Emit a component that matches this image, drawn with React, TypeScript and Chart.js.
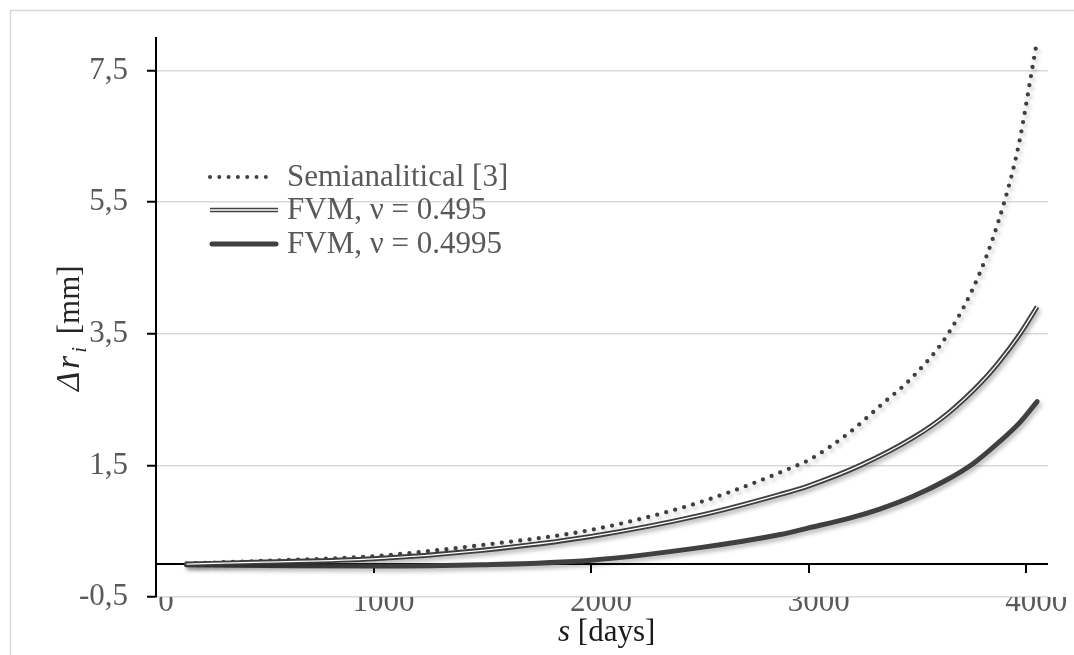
import React, { useEffect, useRef } from 'react';
import { Chart, registerables } from 'chart.js';

Chart.register(...registerables);

const FONT = "'Liberation Serif', 'Times New Roman', serif";

// s [days] and Δr_i [mm] for each series
const semiS = [140, 500, 1000, 1500, 2000, 2500, 2947, 3000, 3180, 3330, 3480, 3641, 3790, 3899, 3966, 4026, 4050];
const semiV = [0.01, 0.05, 0.12, 0.29, 0.52, 0.94, 1.5, 1.58, 1.98, 2.41, 2.85, 3.5, 4.45, 5.5, 6.38, 7.5, 7.96];

const fvm0495S = [140, 500, 1000, 1500, 2000, 2500, 2870, 3000, 3237, 3480, 3640, 3790, 3870, 3972, 4050];
const fvm0495V = [0.0, 0.03, 0.08, 0.21, 0.42, 0.74, 1.06, 1.19, 1.5, 1.92, 2.29, 2.75, 3.05, 3.5, 3.91];

const fvm04995S = [140, 500, 1000, 1500, 2000, 2500, 2870, 3000, 3180, 3330, 3480, 3640, 3757, 3870, 3970, 4050];
const fvm04995V = [-0.01, -0.02, -0.03, -0.01, 0.06, 0.25, 0.45, 0.55, 0.69, 0.84, 1.03, 1.29, 1.53, 1.84, 2.15, 2.47];

const yTicks = [-0.5, 1.5, 3.5, 5.5, 7.5];
const xTicks = [0, 1000, 2000, 3000, 4000];
const seriesLabels = ['Semianalitical [3]', 'FVM, ν = 0.495', 'FVM, ν = 0.4995'];

const LINE = '#404040';

const toPts = (xs: number[], ys: number[]) => xs.map((x, i) => ({ x, y: ys[i] }));

export default function App() {
  const ref = useRef<HTMLCanvasElement | null>(null);

  useEffect(() => {
    if (!ref.current) return;

    const shadowPlugin = {
      id: 'shadow',
      beforeDatasetDraw(chart: any, args: any) {
        const ctx = chart.ctx;
        ctx.save();
        if (args.index !== 2) {
          ctx.shadowColor = 'rgba(0,0,0,0.28)';
          ctx.shadowBlur = 4;
          ctx.shadowOffsetX = 2;
          ctx.shadowOffsetY = 3;
        }
      },
      afterDatasetDraw(chart: any) {
        chart.ctx.restore();
      },
    };

    const axisPlugin = {
      id: 'xAxisAtZero',
      beforeDatasetsDraw(chart: any) {
        const ctx = chart.ctx;
        const xs = chart.scales.x;
        const ys = chart.scales.y;
        const y0 = ys.getPixelForValue(0);
        ctx.save();
        ctx.strokeStyle = '#000';
        ctx.lineWidth = 2;
        ctx.beginPath();
        ctx.moveTo(chart.chartArea.left, y0);
        ctx.lineTo(chart.chartArea.right, y0);
        ctx.stroke();
        xTicks.forEach((v) => {
          if (v === 0) return;
          const px = Math.round(xs.getPixelForValue(v));
          ctx.beginPath();
          ctx.moveTo(px, y0);
          ctx.lineTo(px, y0 + 9);
          ctx.stroke();
        });
        ctx.restore();
      },
    };

    const decorPlugin = {
      id: 'decor',
      afterDraw(chart: any) {
        const ctx = chart.ctx;
        ctx.save();
        // outer frame
        ctx.strokeStyle = '#d9d9d9';
        ctx.lineWidth = 1.5;
        ctx.beginPath();
        ctx.moveTo(10.5, 660);
        ctx.lineTo(10.5, 10.5);
        ctx.lineTo(1080, 10.5);
        ctx.stroke();

        // legend
        const rows = [177, 210, 244];
        const x1 = 210;
        const x2 = 278;
        ctx.lineCap = 'round';
        ctx.strokeStyle = LINE;
        ctx.lineWidth = 4;
        ctx.setLineDash([0, 9.3]);
        ctx.beginPath();
        ctx.moveTo(x1, rows[0]);
        ctx.lineTo(273, rows[0]);
        ctx.stroke();
        ctx.setLineDash([]);
        ctx.lineCap = 'butt';
        ctx.lineWidth = 4.5;
        ctx.beginPath();
        ctx.moveTo(x1, rows[1]);
        ctx.lineTo(x2, rows[1]);
        ctx.stroke();
        ctx.strokeStyle = '#fff';
        ctx.lineWidth = 1.3;
        ctx.beginPath();
        ctx.moveTo(x1, rows[1]);
        ctx.lineTo(x2, rows[1]);
        ctx.stroke();
        ctx.strokeStyle = LINE;
        ctx.lineWidth = 5;
        ctx.lineCap = 'round';
        ctx.beginPath();
        ctx.moveTo(x1 + 2, rows[2]);
        ctx.lineTo(x2 - 2, rows[2]);
        ctx.stroke();

        ctx.fillStyle = '#595959';
        ctx.font = `31px ${FONT}`;
        ctx.textBaseline = 'middle';
        ctx.textAlign = 'left';
        seriesLabels.forEach((t, i) => ctx.fillText(t, 287, rows[i] + 1));

        // x title
        ctx.fillStyle = '#1a1a1a';
        ctx.textBaseline = 'alphabetic';
        ctx.font = `italic 31px ${FONT}`;
        ctx.fillText('s', 558, 641);
        let w = ctx.measureText('s').width;
        ctx.font = `31px ${FONT}`;
        ctx.fillText(' [days]', 558 + w, 641);

        // y title
        ctx.translate(79, 391);
        ctx.rotate(-Math.PI / 2);
        ctx.fillStyle = '#262626';
        ctx.font = `italic 33px ${FONT}`;
        ctx.fillText('Δ', 0, 0);
        w = ctx.measureText('Δ').width + 3;
        ctx.fillText('r', w, 0);
        w += ctx.measureText('r').width + 3;
        ctx.font = `italic 21px ${FONT}`;
        ctx.fillText('i', w, 7);
        w += ctx.measureText('i').width + 3;
        ctx.font = `31px ${FONT}`;
        ctx.fillText(' [mm]', w + 2, 0);
        ctx.restore();
      },
    };

    const common = { pointRadius: 0, cubicInterpolationMode: 'monotone' };

    const chart = new Chart(ref.current, {
      type: 'line',
      data: {
        datasets: [
          {
            ...common,
            label: seriesLabels[0],
            data: toPts(semiS, semiV),
            borderColor: LINE,
            borderWidth: 4.3,
            borderDash: [0, 9.3],
            borderCapStyle: 'round',
            order: 2,
          },
          {
            ...common,
            label: seriesLabels[1],
            data: toPts(fvm0495S, fvm0495V),
            borderColor: LINE,
            borderWidth: 5,
            order: 3,
          },
          {
            ...common,
            label: 'inner',
            data: toPts(fvm0495S, fvm0495V),
            borderColor: '#ffffff',
            borderWidth: 1.3,
            order: 1,
          },
          {
            ...common,
            label: seriesLabels[2],
            data: toPts(fvm04995S, fvm04995V),
            borderColor: LINE,
            borderWidth: 5,
            borderCapStyle: 'round',
            order: 4,
          },
        ],
      },
      options: {
        animation: false,
        responsive: false,
        maintainAspectRatio: false,
        layout: { padding: { left: 0, top: 35, right: 26, bottom: 0 } },
        plugins: { legend: { display: false }, tooltip: { enabled: false } },
        scales: {
          x: {
            type: 'linear',
            min: 0,
            max: 4100,
            afterBuildTicks: (s: any) => {
              s.ticks = xTicks.map((v) => ({ value: v }));
            },
            afterFit: (s: any) => {
              s.height = 58;
            },
            grid: { display: false, drawTicks: false },
            border: { display: false },
            ticks: {
              font: { family: FONT, size: 31 },
              color: '#595959',
              padding: -13,
              labelOffset: 10,
              maxRotation: 0,
              autoSkip: false,
              callback: (v: any) => String(v),
            },
          },
          y: {
            type: 'linear',
            min: -0.5,
            max: 8,
            afterBuildTicks: (s: any) => {
              s.ticks = yTicks.map((v) => ({ value: v }));
            },
            afterFit: (s: any) => {
              s.width = 156;
            },
            grid: { color: '#d9d9d9', lineWidth: 1.5, tickColor: '#000', tickLength: 9, tickWidth: 2 },
            border: { color: '#000', width: 2 },
            ticks: {
              font: { family: FONT, size: 31 },
              color: '#595959',
              padding: 19,
              callback: (v: any) => Number(v).toFixed(1).replace('.', ','),
            },
          },
        },
      },
      plugins: [shadowPlugin, axisPlugin, decorPlugin],
    } as any);

    return () => chart.destroy();
  }, []);

  return (
    <div style={{ position: 'fixed', left: 0, top: 0, width: 1074, height: 655, background: '#fff' }}>
      <canvas ref={ref} width={1074} height={655} style={{ width: 1074, height: 655, display: 'block' }} />
    </div>
  );
}
